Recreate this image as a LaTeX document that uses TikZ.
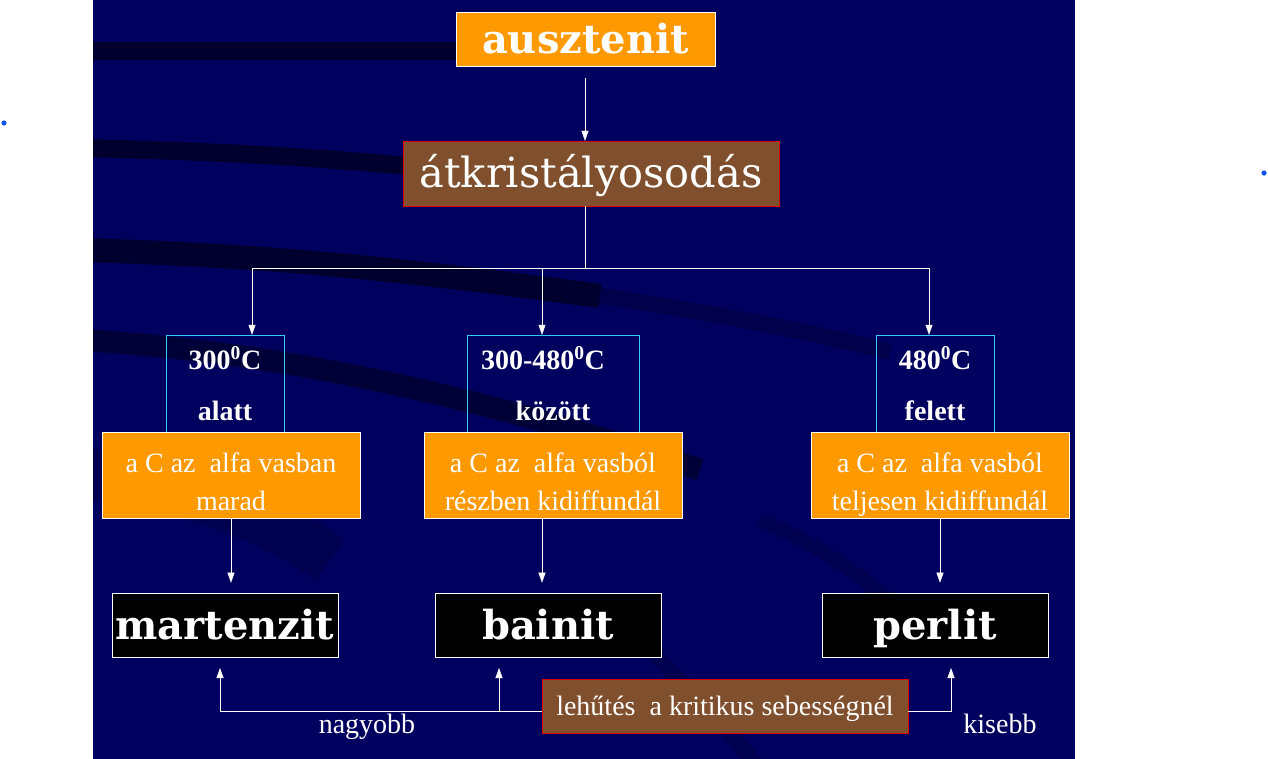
\documentclass[tikz,border=0pt]{standalone}
\usepackage{fontspec}
\setmainfont{Liberation Serif}
\newfontfamily\slabfont{DejaVu Serif}
\usetikzlibrary{arrows.meta}

\definecolor{slidebg}{RGB}{0,0,94}
\definecolor{streakcol}{RGB}{0,0,32}
\definecolor{boxorange}{RGB}{255,153,0}
\definecolor{boxbrown}{RGB}{128,80,46}
\definecolor{boxred}{RGB}{225,0,0}
\definecolor{tempcyan}{RGB}{51,204,255}
\definecolor{dotblue}{RGB}{17,85,238}

\begin{document}
\begin{tikzpicture}[x=1pt,y=-1pt,
    streak/.style ={draw=streakcol, line width=18pt, opacity=0.75},
    phase/.style ={draw=white, fill=black, text=white, inner sep=0pt,
      font=\slabfont\bfseries\fontsize{40}{40}\selectfont,
      text height=34pt, text depth=5pt,
      minimum width=226pt, minimum height=64pt},
    process/.style ={draw=boxred, fill=boxbrown, text=white, inner sep=0pt},
    temp/.style ={draw=tempcyan, text=white, inner sep=0pt, align=center,
      font=\bfseries\fontsize{28}{51}\selectfont,
      text height=78pt, text depth=5pt, minimum height=97pt},
    rule/.style ={draw=white, fill=boxorange, text=white, inner sep=0pt,
      align=center, font=\fontsize{28}{38}\selectfont,
      text height=76pt, text depth=7pt,
      minimum width=258pt, minimum height=86pt},
    note/.style ={text=white, inner sep=0pt, font=\fontsize{28}{28}\selectfont},
    arr/.style ={draw=white, -{Triangle[width=7pt,length=10pt]}}]
   \useasboundingbox (0,0) rectangle (1268,759);
   % slide background
   \fill[slidebg] (93,0) rectangle (1075,759);
   \begin{scope}
     \clip (93,0) rectangle (1075,759);
     \draw[streak,line width=50pt,opacity=0.2] (60,470) .. controls (180,485) and (260,510) .. (330,560);
     \draw[streak] (93,51) -- (456,51);
     \draw[streak] (80,148) .. controls (250,152) and (350,160) .. (470,172);
     \draw[streak,line width=24pt] (80,250) .. controls (300,256) and (450,276) .. (600,296);
     \draw[streak,line width=16pt,opacity=0.3] (600,296) .. controls (720,314) and (820,334) .. (890,352);
     \draw[streak,line width=22pt,opacity=0.6] (80,340) .. controls (250,350) and (450,385) .. (700,470);
     \draw[streak,line width=14pt,opacity=0.2] (760,520) .. controls (820,545) and (870,580) .. (910,620);
     \draw[streak,line width=16pt,opacity=0.2] (650,650) .. controls (690,690) and (720,720) .. (760,770);
   \end{scope}
   \fill[dotblue] (4,123) circle (2.6);
   \fill[dotblue] (1264,173) circle (2.6);

   \node[draw=white, fill=boxorange, text=white, inner sep=0pt,
     font=\slabfont\bfseries\fontsize{40}{40}\selectfont, text height=34pt, text depth=5pt,
     minimum width=259pt, minimum height=54pt] (aus) at (585.5,39) {ausztenit};
   \node[process, font=\slabfont\fontsize{41.5}{41.5}\selectfont,
     text height=35pt, text depth=6pt,
     minimum width=376pt, minimum height=65pt] (atk) at (591,173.5) {átkristályosodás};

   \node[temp, minimum width=118pt] (t1) at (225,383.5) {300\textsuperscript{0}C\\alatt};
   \node[temp, minimum width=172pt] (t2) at (553,383.5) {300-480\textsuperscript{0}C\kern20pt\\között};
   \node[temp, minimum width=118pt] (t3) at (935,383.5) {480\textsuperscript{0}C\\felett};

   \node[rule] (r1) at (231,475.5) {a C az\ \ alfa vasban\\marad};
   \node[rule] (r2) at (553,475.5) {a C az\ \ alfa vasból\\részben kidiffundál};
   \node[rule] (r3) at (940,475.5) {a C az\ \ alfa vasból\\teljesen kidiffundál};

   \node[phase] (m) at (225,625) {martenzit};
   \node[phase] (b) at (548,625) {bainit};
   \node[phase] (p) at (935,625) {perlit};

   \node[process, font=\fontsize{28}{28}\selectfont, text height=24pt, text depth=6pt,
     minimum width=366pt, minimum height=54pt] (leh) at (725,706) {lehűtés\ \ a kritikus sebességnél};
   \node[note, anchor=base] (nagy) at (367,733) {nagyobb};
   \node[note, anchor=base] (kis) at (1000,733) {kisebb};

   \coordinate (top) at (585,78);
   \coordinate (split) at (585,268);
   \coordinate (s1) at (252,268);
   \coordinate (s2) at (542,268);
   \coordinate (s3) at (929,268);
   \coordinate (lleft) at (220,711);
   \coordinate (lmid) at (499,711);
   \coordinate (lright) at (951,711);

   \draw[arr] (top) -- (top |- atk.north);
   \draw[white] (top |- atk.south) -- (split);
   \draw[white] (s1) -- (s3);
   \draw[arr] (s1) -- (s1 |- t1.north);
   \draw[arr] (s2) -- (s2 |- t2.north);
   \draw[arr] (s3) -- (s3 |- t3.north);

   \draw[arr] (r1.south) -- ++(0,64);
   \draw[arr] (s2 |- r2.south) -- ++(0,64);
   \draw[arr] (r3.south) -- ++(0,64);

   \draw[arr] (leh.west |- lleft) -- (lleft) -- ++(0,-43);
   \draw[arr] (lmid) -- ++(0,-43);
   \draw[arr] (leh.east |- lright) -- (lright) -- ++(0,-43);
 \end{tikzpicture}
\end{document}
